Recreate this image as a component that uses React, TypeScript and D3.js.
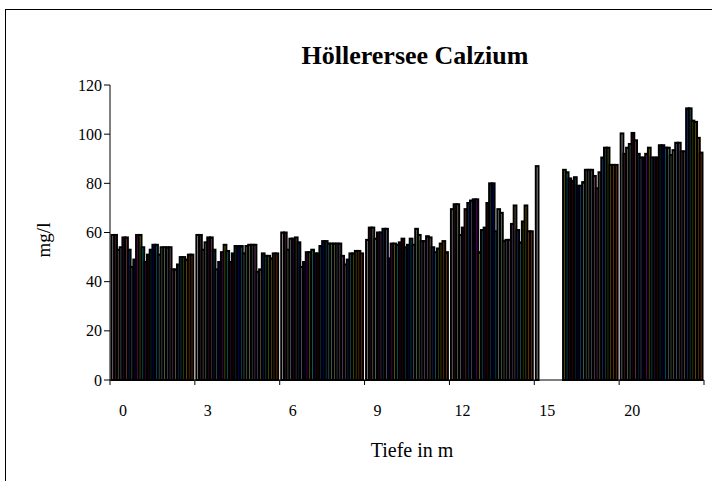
import React from "react";
import * as d3 from "d3";

const depths = ["0", "3", "6", "9", "12", "15", "20"];
const yTicks = [0, 20, 40, 60, 80, 100, 120];

const ca0 = [59, 59, 53, 54, 58, 58, 53, 46, 49, 59, 59, 54, 48, 51, 53, 55, 55, 51, 54, 54, 54, 54, 45, 45, 47, 50, 50, 49, 51, 51];
const ca3 = [59, 59, 53, 56, 58, 58, 53, 45, 48, 52, 55, 52.5, 48, 51.5, 54.5, 54.5, 54.5, 51.5, 54.5, 55, 55, 55, 44, 45, 51.5, 50.5, 50.5, 49.5, 51.5, 51.5];
const ca6 = [60, 60, 53, 57.5, 57.5, 58, 56, 46, 48, 52, 52, 53, 51.5, 51.5, 54.5, 56.5, 56.5, 55.5, 55.5, 55.5, 55.5, 55.5, 50.5, 47, 49, 51.5, 51.5, 52.5, 52.5, 51.5];
const ca9 = [57, 62, 62, 57.5, 60, 60, 61.5, 61.5, 49.5, 55.5, 55.5, 55, 56, 57.5, 54, 55, 57.5, 55, 61.5, 59, 56.5, 56.5, 58.5, 58, 54, 52, 53.5, 55.5, 56.5, 52];
const ca12 = [69.5, 71.5, 71.5, 59, 62, 69.5, 72, 73, 73.5, 73.5, 52, 61, 62, 72, 80, 80, 60.5, 69.5, 68, 56.5, 57, 57, 63.5, 71, 61, 56, 64.5, 71, 60.5, 60.5];
const ca15 = [87, null, null, null, null, null, null, null, null, null, 85.5, 84.5, 82, 81, 82.5, 79, 79, 80.5, 85.5, 85.5, 85.5, 83, 78, 84.5, 90.5, 94.5, 94.5, 87.5, 87.5, 87.5];
const ca20 = [100.3, 92, 94.5, 96, 100.5, 97.5, 92, 90.5, 90.5, 92, 94.5, 90.5, 90.5, 90.5, 95.5, 95.5, 94.5, 94.5, 91.5, 93.5, 96.5, 96.5, 93, 93, 110.5, 110.5, 105.5, 105, 98.5, 92.5];

const groups: (number | null)[][] = [ca0, ca3, ca6, ca9, ca12, ca15, ca20];

const seriesColors = [
  "#FFFFFF", "#993366", "#FFFFCC", "#CCFFFF", "#660066", "#FF8080", "#0066CC", "#CCCCFF",
  "#000080", "#FF00FF", "#FFFF00", "#00FFFF", "#800080", "#800000", "#008080", "#0000FF",
  "#00CCFF", "#CCFFFF", "#CCFFCC", "#FFFF99", "#99CCFF", "#FF99CC", "#CC99FF", "#FFCC99",
  "#3366FF", "#33CCCC", "#99CC00", "#FFCC00", "#FF9900", "#FF6600",
];

const W = 712;
const H = 481;
const plot = { left: 110, right: 704, top: 85, bottom: 380 };
const FONT = "'Liberation Serif', 'Times New Roman', serif";

export default function App() {
  const x = d3.scaleBand<string>().domain(depths).range([plot.left, plot.right]).paddingInner(0).paddingOuter(0);
  const nSeries = d3.max(groups, (g) => g.length) ?? 30;
  const inner = d3
    .scaleBand<number>()
    .domain(d3.range(nSeries))
    .range([1.5, x.bandwidth() - 1.5])
    .padding(0);
  const y = d3.scaleLinear().domain([0, 120]).range([plot.bottom, plot.top]);
  const bw = inner.bandwidth();
  const boundaries = [...depths.map((d) => x(d) as number), plot.right];
  const shade = (c: string, i: number) => d3.interpolateRgb(c, "#000")(i === 0 ? 0.3 : 0.5);

  return (
    <svg
      width={W}
      height={H}
      viewBox={`0 0 ${W} ${H}`}
      style={{ position: "absolute", left: 0, top: 0, background: "#fff" }}
      fontFamily={FONT}
    >
      <rect x={0} y={0} width={W} height={H} fill="#fff" />
      {/* outer frame */}
      <rect x={5.5} y={9.5} width={W + 20} height={H + 20} fill="none" stroke="#000" strokeWidth={1} />

      <text x={415} y={64} textAnchor="middle" fontSize={26} fontWeight="bold" fill="#000">
        Höllerersee Calzium
      </text>

      {/* bars */}
      {groups.map((vals, gi) => (
        <g key={gi} transform={`translate(${x(depths[gi])},0)`}>
          {vals.map((v, si) =>
            v == null ? null : (
              <rect
                key={si}
                x={inner(si)}
                y={y(v)}
                width={bw}
                height={y(0) - y(v)}
                fill={shade(seriesColors[si % seriesColors.length], si)}
                stroke="#000"
                strokeWidth={2}
              />
            )
          )}
        </g>
      ))}

      {/* y axis */}
      <line x1={plot.left} x2={plot.left} y1={plot.top} y2={plot.bottom} stroke="#000" strokeWidth={1} />
      {yTicks.map((t) => (
        <g key={t}>
          <line x1={plot.left - 6} x2={plot.left} y1={y(t)} y2={y(t)} stroke="#000" strokeWidth={1} />
          <text x={plot.left - 8} y={y(t)} dy="0.35em" textAnchor="end" fontSize={16} fill="#000">
            {t}
          </text>
        </g>
      ))}

      {/* x axis */}
      <line x1={plot.left} x2={plot.right} y1={plot.bottom} y2={plot.bottom} stroke="#000" strokeWidth={1} />
      {boundaries.map((b, i) => (
        <line key={i} x1={b} x2={b} y1={plot.bottom} y2={plot.bottom + 5} stroke="#000" strokeWidth={1} />
      ))}
      {depths.map((d) => (
        <text key={d} x={(x(d) as number) + 13} y={416} textAnchor="middle" fontSize={16} fill="#000">
          {d}
        </text>
      ))}

      <text x={412} y={457} textAnchor="middle" fontSize={20} fill="#000">
        Tiefe in m
      </text>
      <text transform={`translate(50,240) rotate(-90)`} textAnchor="middle" fontSize={19} fill="#000">
        mg/l
      </text>
    </svg>
  );
}
